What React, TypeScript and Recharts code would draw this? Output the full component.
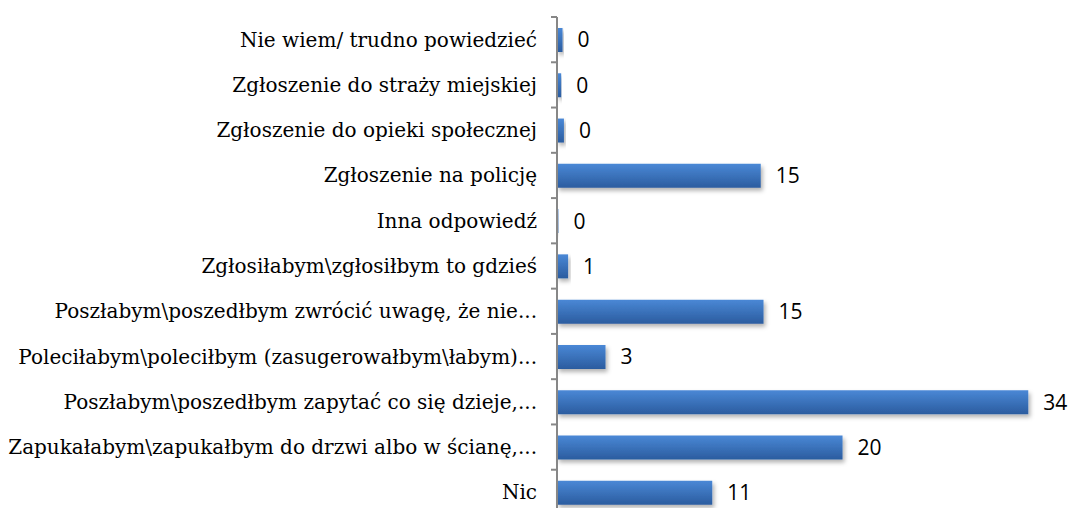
import { BarChart, Bar, XAxis, YAxis, LabelList } from 'recharts';

const categories = [
  'Nie wiem/ trudno powiedzieć',
  'Zgłoszenie do straży miejskiej',
  'Zgłoszenie do opieki społecznej',
  'Zgłoszenie na policję',
  'Inna odpowiedź',
  'Zgłosiłabym\\zgłosiłbym to gdzieś',
  'Poszłabym\\poszedłbym zwrócić uwagę, że nie...',
  'Poleciłabym\\poleciłbym (zasugerowałbym\\łabym)...',
  'Poszłabym\\poszedłbym zapytać co się dzieje,...',
  'Zapukałabym\\zapukałbym do drzwi albo w ścianę,...',
  'Nic',
];

// bar lengths (in label units)
const values = [0.4, 0.3, 0.5, 14.7, 0.1, 0.8, 14.9, 3.5, 34, 20.6, 11.2];
// numbers printed next to the bars
const shownValues = ['0', '0', '0', '15', '0', '1', '15', '3', '34', '20', '11'];

const data = categories.map((name, i) => ({ name, value: values[i], shown: shownValues[i] }));

const CHART_W = 1072;
const CHART_H = 515;
const MARGIN = { top: 17, right: 16, bottom: 0, left: 0 };
const AXIS_W = 557;
const BAND = (CHART_H - MARGIN.top - MARGIN.bottom) / categories.length;

function CategoryTick(props: any) {
  const { x, y, payload, index } = props;
  return (
    <g>
      <text
        x={x - 20}
        y={y}
        textAnchor="end"
        dominantBaseline="central"
        fontFamily="'DejaVu Serif', serif"
        fontSize={20}
        fill="#000"
      >
        {payload.value}
      </text>
      {index === 0 && (
        <line x1={x - 6} x2={x} y1={y - BAND / 2} y2={y - BAND / 2} stroke="#878787" strokeWidth={2} />
      )}
      <line x1={x - 6} x2={x} y1={y + BAND / 2} y2={y + BAND / 2} stroke="#878787" strokeWidth={2} />
    </g>
  );
}

export default function App() {
  return (
    <div style={{ position: 'absolute', left: 0, top: 0, width: CHART_W, height: 508, overflow: 'hidden', background: '#fff' }}>
      <BarChart width={CHART_W} height={CHART_H} data={data} layout="vertical" margin={MARGIN}>
        <defs>
          <linearGradient id="barFill" x1="0" y1="0" x2="0" y2="1">
            <stop offset="0%" stopColor="#4a88d6" />
            <stop offset="100%" stopColor="#2b5c9f" />
          </linearGradient>
          <filter id="barShadow" x="-10%" y="-30%" width="130%" height="180%">
            <feDropShadow dx="2" dy="3" stdDeviation="2" floodColor="#000" floodOpacity="0.3" />
          </filter>
        </defs>
        <XAxis type="number" domain={[0, 36]} hide />
        <YAxis
          type="category"
          dataKey="name"
          width={AXIS_W}
          axisLine={{ stroke: '#878787', strokeWidth: 2 }}
          tickLine={false}
          tickSize={0}
          tickMargin={0}
          interval={0}
          tick={<CategoryTick />}
        />
        <Bar
          dataKey="value"
          barSize={24}
          fill="url(#barFill)"
          filter="url(#barShadow)"
          isAnimationActive={false}
        >
          <LabelList
            dataKey="shown"
            position="right"
            offset={15}
            style={{ fontFamily: "'Open Sans', sans-serif", fontSize: 21, fill: '#000' }}
          />
        </Bar>
      </BarChart>
    </div>
  );
}
